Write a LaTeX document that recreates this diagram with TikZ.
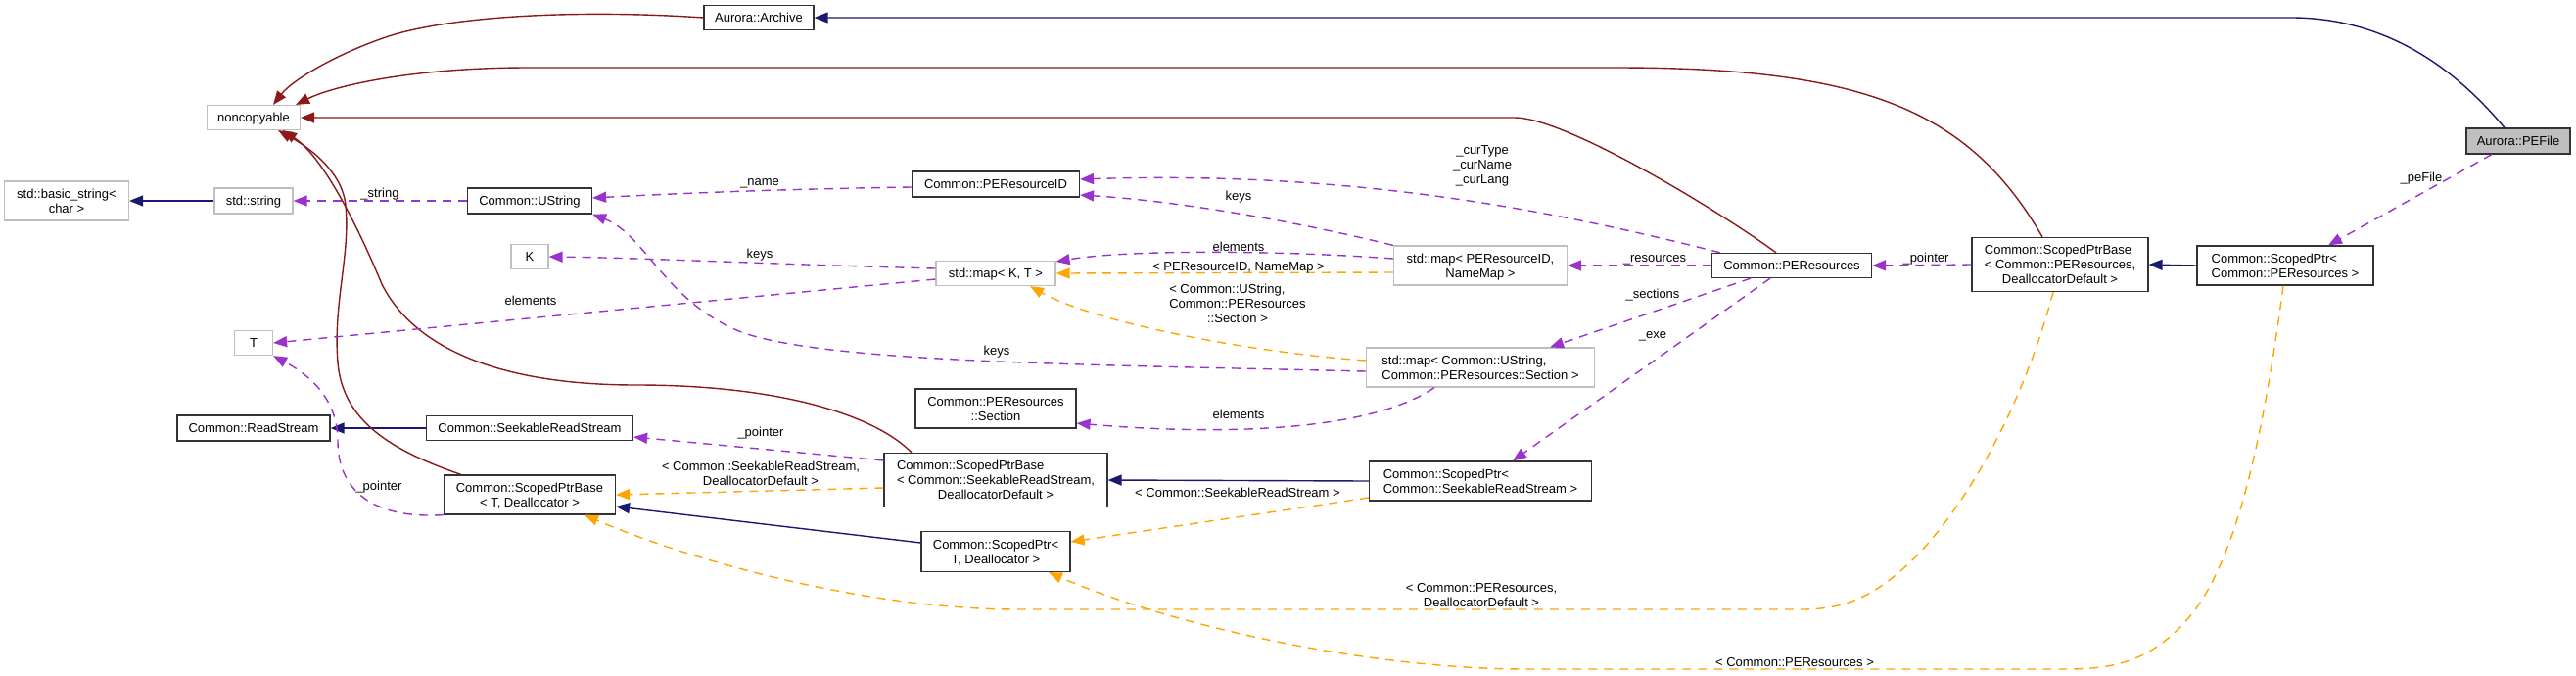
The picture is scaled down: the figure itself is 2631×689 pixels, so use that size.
\documentclass[tikz,border=0pt]{standalone}
\usepackage{fontspec}
\setmainfont{Liberation Sans}
\usepackage{array}
\usetikzlibrary{arrows.meta}
\definecolor{inhc}{HTML}{191970}
\definecolor{privc}{HTML}{8B1A1A}
\definecolor{usec}{HTML}{9A32CD}
\definecolor{tmplc}{HTML}{FFA500}
\definecolor{grayb}{HTML}{BFBFBF}
\newcommand{\rs}{\rule[-2.9pt]{0pt}{15pt}}
\newcolumntype{C}{>{\rs}c}
\newcolumntype{L}{>{\rs}l}
\newcommand{\cTxt}[1]{{\renewcommand{\arraystretch}{0}\begin{tabular}{@{}C@{}}#1\end{tabular}}}
\newcommand{\lTxt}[2]{{\renewcommand{\arraystretch}{0}\begin{tabular}{@{}L@{}}#1\\\multicolumn{1}{@{}C@{}}{#2}\end{tabular}}}
\tikzset{
  cls/.style={draw=black!80, line width=1.2pt, inner sep=0pt, font=\fontsize{13}{15}\selectfont},
  ext/.style={cls, draw=grayb},
  lbl/.style={inner sep=0pt, font=\fontsize{13}{15}\selectfont},
  arr/.style={-{Triangle[length=14pt,width=11pt]}},
  inh/.style={arr, draw=inhc, fill=none, line width=1.4pt},
  priv/.style={arr, draw=privc, line width=1.4pt},
  usedash/.style={arr, draw=usec, line width=1.4pt, dash pattern=on 9pt off 7pt},
  tmpl/.style={arr, draw=tmplc, line width=1.4pt, dash pattern=on 9pt off 7pt},
}
\begin{document}
\begin{tikzpicture}[x=1pt,y=-1pt]
\fill[white] (0,0) rectangle (2631,689);
\useasboundingbox (0,0) rectangle (2631,689);

% ---- nodes ----
\node[ext, minimum width=95pt, minimum height=25pt] (nonc) at (259,120) {\cTxt{noncopyable}};
\node[ext, minimum width=127pt, minimum height=40pt] (bstring) at (68,205) {\cTxt{std::basic\_string<\\char >}};
\node[ext, minimum width=80pt, minimum height=26pt] (string) at (259,205) {\cTxt{std::string}};
\node[cls, minimum width=127pt, minimum height=26pt] (ustr) at (541,205) {\cTxt{Common::UString}};
\node[ext, minimum width=38pt, minimum height=25pt] (k) at (541,262) {\cTxt{K}};
\node[ext, minimum width=39pt, minimum height=25pt] (t) at (259,350) {\cTxt{T}};
\node[cls, minimum width=156pt, minimum height=26pt] (rs) at (259,437) {\cTxt{Common::ReadStream}};
\node[cls, minimum width=211pt, minimum height=25pt] (srs) at (541,437) {\cTxt{Common::SeekableReadStream}};
\node[cls, minimum width=175pt, minimum height=40pt] (spbtd) at (541,505) {\cTxt{Common::ScopedPtrBase\\< T, Deallocator >}};
\node[cls, minimum width=112pt, minimum height=25pt] (archive) at (775,18) {\cTxt{Aurora::Archive}};
\node[cls, minimum width=171pt, minimum height=26pt] (prid) at (1017,188) {\cTxt{Common::PEResourceID}};
\node[ext, minimum width=122pt, minimum height=25pt] (mkt) at (1017,279) {\cTxt{std::map< K, T >}};
\node[cls, minimum width=164pt, minimum height=40pt] (sec) at (1017,417) {\cTxt{Common::PEResources\\::Section}};
\node[cls, minimum width=228pt, minimum height=55pt] (spbsrs) at (1017,490) {\lTxt{Common::ScopedPtrBase\\< Common::SeekableReadStream,}{DeallocatorDefault >}};
\node[cls, minimum width=152pt, minimum height=41pt] (sptd) at (1017,563) {\cTxt{Common::ScopedPtr<\\T, Deallocator >}};
\node[ext, minimum width=177pt, minimum height=40pt] (mprid) at (1512,271) {\cTxt{std::map< PEResourceID,\\NameMap >}};
\node[ext, minimum width=233pt, minimum height=40pt] (mus) at (1512,375) {\lTxt{std::map< Common::UString,}{Common::PEResources::Section >}};
\node[cls, minimum width=227pt, minimum height=40pt] (spsrs) at (1512,491) {\lTxt{Common::ScopedPtr<}{Common::SeekableReadStream >}};
\node[cls, minimum width=163pt, minimum height=25pt] (per) at (1830,271) {\cTxt{Common::PEResources}};
\node[cls, minimum width=180pt, minimum height=55pt] (spbper) at (2104,270) {\lTxt{Common::ScopedPtrBase\\< Common::PEResources,}{DeallocatorDefault >}};
\node[cls, minimum width=180pt, minimum height=40pt] (spper) at (2334,271) {\lTxt{Common::ScopedPtr<}{Common::PEResources >}};
\node[cls, fill=grayb, minimum width=106pt, minimum height=26pt] (pefile) at (2572,144) {\cTxt{Aurora::PEFile}};

% ---- public inheritance ----
\draw[inh] ([xshift=-14pt]pefile.north) .. controls (2520,85) and (2450,18) .. (2340,18) -- (archive.east);
\draw[inh] (string.west) -- (bstring.east);
\draw[inh] (srs.west) -- (rs.east);
\draw[inh] ([yshift=9pt]sptd.west) -- ([yshift=-12pt]spbtd.east);
\draw[inh] (spsrs.west) -- (spbsrs.east);
\draw[inh] (spper.west) -- (spbper.east);

% ---- private inheritance ----
\draw[priv] (archive.west) .. controls (600,10) and (470,15) .. (400,36) .. controls (350,52) and (300,80) .. ([xshift=20pt]nonc.north);
\draw[priv] ([xshift=-18pt]spbper.north) .. controls (2010,110) and (1900,69) .. (1650,69) -- (540,69) .. controls (420,69) and (340,88) .. ([xshift=-5pt]nonc.north east);
\draw[priv] ([xshift=-16pt]per.north) .. controls (1760,218) and (1600,120) .. (1547,120) -- (nonc.east);
\draw[priv] ([xshift=-86pt]spbsrs.north) .. controls (895,425) and (800,393) .. (650,393) .. controls (500,393) and (420,350) .. (390,290) .. controls (365,230) and (330,160) .. ([xshift=30pt]nonc.south);
\draw[priv] ([xshift=-70pt]spbtd.north) .. controls (400,460) and (350,430) .. (345,370) .. controls (340,310) and (358,260) .. (353,210) .. controls (350,175) and (315,150) .. ([xshift=25pt]nonc.south);

% ---- usage ----
\draw[usedash] (ustr.west) -- (string.east);
\draw[usedash] ([yshift=-3pt]prid.west) .. controls (800,193) and (700,197) .. ([yshift=3pt]ustr.east);
\draw[usedash] ([xshift=-73pt]per.north) .. controls (1550,205) and (1350,175) .. ([yshift=5pt]prid.east);
\draw[usedash] (mprid.north west) .. controls (1320,225) and (1200,205) .. ([yshift=-11pt]prid.east);
\draw[usedash] ([yshift=7pt]mprid.west) .. controls (1300,255) and (1150,255) .. ([yshift=12pt]mkt.east);
\draw[usedash] ([yshift=5pt]mkt.west) .. controls (800,270) and (650,263) .. (k.east);
\draw[usedash] ([yshift=-6pt]mkt.west) -- (t.east);
\draw[usedash] ([yshift=-4pt]mus.west) .. controls (1100,372) and (850,370) .. (760,340) .. controls (680,310) and (660,240) .. (ustr.south east);
\draw[usedash] ([xshift=-47pt]mus.south) .. controls (1400,440) and (1250,445) .. ([yshift=-15pt]sec.east);
\draw[usedash] (per.west) -- (mprid.east);
\draw[usedash] ([xshift=-42pt]per.south) -- ([xshift=71pt]mus.north);
\draw[usedash] ([xshift=-22pt]per.south) -- ([xshift=33pt]spsrs.north);
\draw[usedash] (spbper.west) -- (per.east);
\draw[usedash] ([xshift=-27pt]pefile.south) -- ([xshift=44pt]spper.north);
\draw[usedash] ([yshift=20pt]spbsrs.west) -- ([yshift=-9pt]srs.east);
\draw[usedash] (spbtd.south west) .. controls (380,530) and (345,500) .. (345,450) .. controls (345,410) and (320,385) .. (t.south east);

% ---- template instances ----
\draw[tmpl] ([yshift=-7pt]mprid.west) -- (mkt.east);
\draw[tmpl] ([yshift=7pt]mus.west) .. controls (1280,360) and (1120,330) .. ([xshift=35pt]mkt.south);
\draw[tmpl] ([yshift=-8pt]spbsrs.west) -- (spbtd.east);
\draw[tmpl] ([yshift=-17pt]spsrs.west) -- ([yshift=10pt]sptd.east);
\draw[tmpl] ([xshift=-7pt]spbper.south) .. controls (2070,400) and (2020,500) .. (1960,565) .. controls (1920,605) and (1890,622) .. (1840,622) -- (1040,622) .. controls (880,622) and (700,570) .. ([xshift=56pt]spbtd.south);
\draw[tmpl] ([xshift=-2pt]spper.south) .. controls (2315,420) and (2290,560) .. (2240,625) .. controls (2200,675) and (2160,683) .. (2110,683) -- (1560,683) .. controls (1400,683) and (1200,640) .. ([xshift=54pt]sptd.south);

% ---- edge labels ----
\node[lbl] (lstring) at (388,197) {\cTxt{\_string}};
\node[lbl] (lname) at (776,185) {\cTxt{\_name}};
\node[lbl] (lcur) at (1514,168) {\cTxt{\_curType\\\_curName\\\_curLang}};
\node[lbl] (lkeys1) at (1265,200) {\cTxt{keys}};
\node[lbl] (lelem1) at (1265,252) {\cTxt{elements}};
\node[lbl] (ltpl1) at (1265,272) {\cTxt{< PEResourceID, NameMap >}};
\node[lbl] (lkeys2) at (776,259) {\cTxt{keys}};
\node[lbl] (lelem2) at (542,307) {\cTxt{elements}};
\node[lbl] (ltpl2) at (1264,310) {\lTxt{< Common::UString,\\Common::PEResources}{::Section >}};
\node[lbl] (lkeys3) at (1018,358) {\cTxt{keys}};
\node[lbl] (lelem3) at (1265,423) {\cTxt{elements}};
\node[lbl] (lres) at (1690,263) {\cTxt{\_resources}};
\node[lbl] (lsec) at (1688,300) {\cTxt{\_sections}};
\node[lbl] (lexe) at (1688,341) {\cTxt{\_exe}};
\node[lbl] (lptr1) at (1967,263) {\cTxt{\_pointer}};
\node[lbl] (lpe) at (2473,181) {\cTxt{\_peFile}};
\node[lbl] (lptr2) at (777,441) {\cTxt{\_pointer}};
\node[lbl] (lptr3) at (387,496) {\cTxt{\_pointer}};
\node[lbl] (ltpl3) at (777,483) {\cTxt{< Common::SeekableReadStream,\\DeallocatorDefault >}};
\node[lbl] (ltpl4) at (1264,503) {\cTxt{< Common::SeekableReadStream >}};
\node[lbl] (ltpl5) at (1513,607) {\cTxt{< Common::PEResources,\\DeallocatorDefault >}};
\node[lbl] (ltpl6) at (1833,676) {\cTxt{< Common::PEResources >}};
\end{tikzpicture}
\end{document}
